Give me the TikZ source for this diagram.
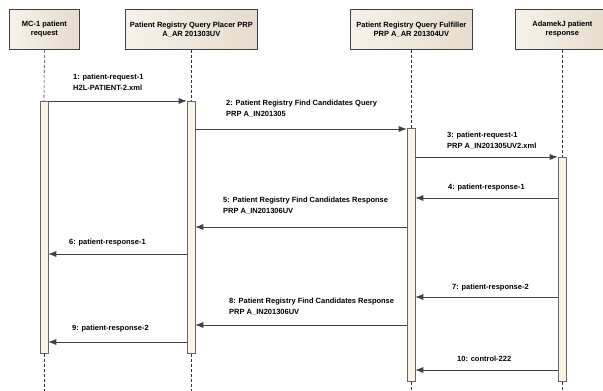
\documentclass[tikz,border=0pt]{standalone}
\usepackage{fontspec}
\setmainfont{Liberation Sans}
\usetikzlibrary{arrows.meta}
\definecolor{boxL}{HTML}{F6F1EA}
\definecolor{boxR}{HTML}{E6DCCD}
\definecolor{barF}{HTML}{FBF4E6}
\begin{document}
\begin{tikzpicture}[x=1pt,y=-1pt,
  lbox/.style={draw=black!75,line width=0.8pt,left color=boxL,right color=boxR,
     minimum height=40pt,align=center,font=\fontsize{7.5}{9}\selectfont\bfseries,anchor=north west,inner sep=1pt},
  life/.style={draw=black!80,dashed,dash pattern=on 3pt off 2pt,line width=0.6pt},
  actbar/.style={draw=black!60,fill=barF,line width=0.6pt,minimum width=8pt,anchor=north,inner sep=0},
  msg/.style={draw=black!75,line width=0.7pt,-{Latex[length=8pt,width=6pt]}},
  mlab/.style={anchor=north west,align=left,inner sep=0pt,font=\fontsize{7.5}{10.5}\selectfont\bfseries}]
\useasboundingbox (0,0) rectangle (603,391);
% lifeline heads
\node[lbox,minimum width=70pt] (h1) at (9,9) {MC-1 patient\\request};
\node[lbox,minimum width=132pt] (h2) at (125,9) {Patient Registry Query Placer PRP\\A\_AR 201303UV};
\node[lbox,minimum width=122pt] (h3) at (350,9) {Patient Registry Query Fulfiller\\PRP A\_AR 201304UV};
\node[lbox,minimum width=94pt] (h4) at (515,9) {AdamekJ patient\\response};
% activation bars
\node[actbar,minimum height=252pt] (b1) at (44,101) {};
\node[actbar,minimum height=252pt] (b2) at (191,101) {};
\node[actbar,minimum height=253pt] (b3) at (411,128) {};
\node[actbar,minimum height=224pt] (b4) at (562,157) {};
% lifelines
\coordinate (e1) at (44,391); \coordinate (e2) at (191,391);
\coordinate (e3) at (411,391); \coordinate (e4) at (562,391);
\draw[life] (h1.south) -- (b1.north); \draw[life] (b1.south) -- (e1);
\draw[life] (h2.south -| b2.north) -- (b2.north); \draw[life] (b2.south) -- (e2);
\draw[life] (h3.south -| b3.north) -- (b3.north); \draw[life] (b3.south) -- (e3);
\draw[life] (h4.south -| b4.north) -- (b4.north); \draw[life] (b4.south) -- (e4);
% messages
\draw[msg] (b1.east |- 0,101) -- (b2.west |- 0,101);
\node[mlab] (m1) at (73,74) {1: patient-request-1\\H2L-PATIENT-2.xml};
\draw[msg] (b2.east |- 0,129) -- (b3.west |- 0,129);
\node[mlab] (m2) at (226,100) {2: Patient Registry Find Candidates Query\\PRP A\_IN201305};
\draw[msg] (b3.east |- 0,157) -- (b4.west |- 0,157);
\node[mlab] (m3) at (447,132) {3: patient-request-1\\PRP A\_IN201305UV2.xml};
\draw[msg] (b4.west |- 0,198) -- (b3.east |- 0,198);
\node[mlab] (m4) at (448,184) {4: patient-response-1};
\draw[msg] (b3.west |- 0,227) -- (b2.east |- 0,227);
\node[mlab] (m5) at (223,197) {5: Patient Registry Find Candidates Response\\PRP A\_IN201306UV};
\draw[msg] (b2.west |- 0,254) -- (b1.east |- 0,254);
\node[mlab] (m6) at (69,239) {6: patient-response-1};
\draw[msg] (b4.west |- 0,297) -- (b3.east |- 0,297);
\node[mlab] (m7) at (452,284) {7: patient-response-2};
\draw[msg] (b3.west |- 0,325) -- (b2.east |- 0,325);
\node[mlab] (m8) at (229,298) {8: Patient Registry Find Candidates Response\\PRP A\_IN201306UV};
\draw[msg] (b2.west |- 0,342) -- (b1.east |- 0,342);
\node[mlab] (m9) at (72,325) {9: patient-response-2};
\draw[msg] (b4.west |- 0,370) -- (b3.east |- 0,370);
\node[mlab] (m10) at (457,356) {10: control-222};
\end{tikzpicture}
\end{document}
